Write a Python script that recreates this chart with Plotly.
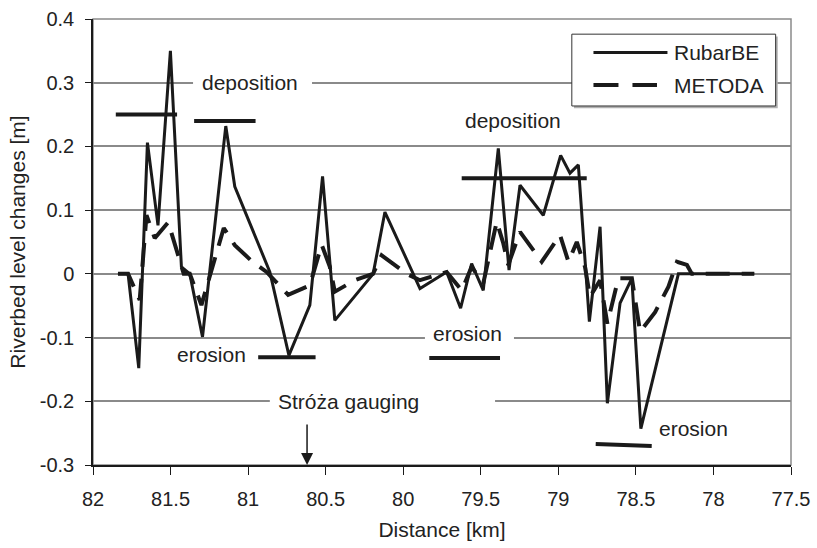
import plotly.graph_objects as go

# ---- data ----
distance_rubarbe = [81.839, 81.774, 81.705, 81.649, 81.581, 81.501, 81.430, 81.376, 81.294, 81.144,
                    81.086, 80.860, 80.737, 80.602, 80.520, 80.441, 80.194, 80.118, 79.892, 79.720,
                    79.630, 79.559, 79.484, 79.387, 79.318, 79.247, 79.097, 78.985, 78.925, 78.871,
                    78.800, 78.731, 78.684, 78.602, 78.526, 78.468, 78.226, 77.737]
change_rubarbe = [0, 0, -0.148, 0.206, 0.076, 0.350, 0.011, 0, -0.099, 0.232,
                  0.137, 0.003, -0.128, -0.049, 0.153, -0.073, 0, 0.097, -0.023, 0.003,
                  -0.054, 0.016, -0.026, 0.197, 0.006, 0.139, 0.092, 0.186, 0.158, 0.171,
                  -0.075, 0.074, -0.203, -0.046, -0.007, -0.243, 0, 0]

distance_metoda = [81.839, 81.774, 81.699, 81.655, 81.602, 81.515, 81.441, 81.415, 81.376, 81.301,
                   81.157, 81.086, 80.972, 80.881, 80.742, 80.602, 80.526, 80.473, 80.441, 80.312,
                   80.195, 80.139, 79.978, 79.892, 79.720, 79.623, 79.559, 79.484, 79.397, 79.355,
                   79.323, 79.247, 79.107, 78.989, 78.935, 78.881, 78.828, 78.796, 78.731, 78.684,
                   78.613, 78.526, 78.473, 78.376, 78.290, 78.235, 78.171, 78.139, 77.737]
change_metoda = [0, 0, -0.041, 0.092, 0.056, 0.081, 0.021, 0, 0, -0.049,
                 0.072, 0.045, 0.019, 0.003, -0.033, -0.018, 0.046, 0.011, -0.028, -0.010,
                 0, 0.029, 0, -0.010, 0.003, -0.026, 0.011, -0.015, 0.082, 0.048,
                 0.014, 0.066, 0.019, 0.061, 0.019, 0.050, 0.011, -0.036, -0.010, -0.078,
                 -0.007, -0.007, -0.091, -0.060, -0.020, 0.019, 0.014, 0, 0]

# level bars: (start km, end km, level start, level end)
bar_start = [81.853, 81.348, 79.623, 80.935, 79.832, 78.759]
bar_end = [81.458, 80.952, 78.817, 80.565, 79.376, 78.398]
bar_level_start = [0.25, 0.24, 0.15, -0.131, -0.132, -0.267]
bar_level_end = [0.25, 0.24, 0.15, -0.131, -0.132, -0.270]

label_text = ["deposition", "deposition", "erosion", "erosion", "erosion", "Stróża gauging"]
label_x = [80.988, 79.291, 81.239, 79.588, 78.131, 80.352]
label_y = [0.300, 0.241, -0.126, -0.094, -0.243, -0.200]

# gridline gaps behind labels (start km, end km, level)
gap_start = [81.355, 79.860, 80.860]
gap_end = [80.588, 79.286, 79.408]
gap_level = [0.3, -0.1, -0.2]

gauging_km = 80.62
gauging_arrow_top = -0.234

x_ticks = [82, 81.5, 81, 80.5, 80, 79.5, 79, 78.5, 78, 77.5]
x_ticktext = ["82", "81.5", "81", "80.5", "80", "79.5", "79", "78.5", "78", "77.5"]
y_ticks = [-0.3, -0.2, -0.1, 0, 0.1, 0.2, 0.3, 0.4]
y_ticktext = ["-0.3", "-0.2", "-0.1", "0", "0.1", "0.2", "0.3", "0.4"]

series_names = ["RubarBE", "METODA"]

INK = "#1a1a1a"
FONT = "Liberation Sans, Arial, sans-serif"

fig = go.Figure()

fig.add_trace(go.Scatter(x=distance_rubarbe, y=change_rubarbe, mode="lines",
                         name=series_names[0], showlegend=False,
                         line=dict(color=INK, width=3)))
fig.add_trace(go.Scatter(x=distance_metoda, y=change_metoda, mode="lines",
                         name=series_names[1], showlegend=False,
                         line=dict(color=INK, width=4, dash="24px,12px")))

for xs, xe, ys, ye in zip(bar_start, bar_end, bar_level_start, bar_level_end):
    fig.add_trace(go.Scatter(x=[xs, xe], y=[ys, ye], mode="lines", showlegend=False,
                             hoverinfo="skip", line=dict(color=INK, width=4)))

shapes = []
# plot border
shapes.append(dict(type="rect", xref="paper", yref="paper", x0=0, x1=1, y0=0, y1=1,
                   line=dict(color="#8a8a8a", width=1.5), layer="below"))
# white gaps in gridlines behind labels
for xs, xe, lv in zip(gap_start, gap_end, gap_level):
    shapes.append(dict(type="rect", xref="x", yref="y", x0=xs, x1=xe, y0=lv - 0.008, y1=lv + 0.008,
                       fillcolor="white", line=dict(width=0), layer="between"))

# legend box
lx0, lx1, ly0, ly1 = 0.686, 0.978, 0.805, 0.966
shapes.append(dict(type="rect", xref="paper", yref="paper", x0=lx0 + 0.003, x1=lx1 + 0.003,
                   y0=ly0 - 0.005, y1=ly1 - 0.005, fillcolor="#b0b0b0", line=dict(width=0), layer="above"))
shapes.append(dict(type="rect", xref="paper", yref="paper", x0=lx0, x1=lx1, y0=ly0, y1=ly1,
                   fillcolor="white", line=dict(color="#333333", width=1), layer="above"))
shapes.append(dict(type="line", xref="paper", yref="paper", x0=0.717, x1=0.823, y0=0.925, y1=0.925,
                   line=dict(color=INK, width=3), layer="above"))
shapes.append(dict(type="line", xref="paper", yref="paper", x0=0.717, x1=0.808, y0=0.852, y1=0.852,
                   line=dict(color=INK, width=4, dash="25px,14px"), layer="above"))

annotations = []
for t, x, y in zip(label_text, label_x, label_y):
    annotations.append(dict(text=t, x=x, y=y, xref="x", yref="y", showarrow=False,
                            font=dict(family=FONT, size=21, color="#222222"),
                            xanchor="center", yanchor="middle"))
annotations.append(dict(text=series_names[0], x=0.829, y=0.925, xref="paper", yref="paper",
                        showarrow=False, xanchor="left", yanchor="middle",
                        font=dict(family=FONT, size=21, color="#222222")))
annotations.append(dict(text=series_names[1], x=0.829, y=0.852, xref="paper", yref="paper",
                        showarrow=False, xanchor="left", yanchor="middle",
                        font=dict(family=FONT, size=21, color="#222222")))
annotations.append(dict(text="", x=gauging_km, y=-0.3, xref="x", yref="y",
                        ax=gauging_km, ay=gauging_arrow_top, axref="x", ayref="y",
                        showarrow=True, arrowhead=2, arrowsize=1.6, arrowwidth=1.5,
                        arrowcolor=INK, standoff=0))

fig.update_layout(
    width=817, height=548,
    margin=dict(l=93, r=26, t=19, b=83),
    paper_bgcolor="white", plot_bgcolor="white",
    font=dict(family=FONT, size=20, color="#222222"),
    shapes=shapes, annotations=annotations,
    showlegend=False,
)
fig.update_xaxes(range=[82, 77.5], tickmode="array", tickvals=x_ticks, ticktext=x_ticktext,
                 showgrid=False, zeroline=False, showline=True, linecolor=INK, linewidth=1.5,
                 ticks="outside", ticklen=8, tickwidth=1.2, tickcolor=INK,
                 tickfont=dict(size=20), ticklabelstandoff=7, automargin=False,
                 title=dict(text="Distance [km]", font=dict(size=21), standoff=14))
fig.update_yaxes(range=[-0.3, 0.4], tickmode="array", tickvals=y_ticks, ticktext=y_ticktext,
                 showgrid=True, gridcolor="#8a8a8a", gridwidth=1.5, zeroline=False,
                 showline=True, linecolor=INK, linewidth=1.5,
                 ticks="outside", ticklen=6, tickwidth=1.2, tickcolor=INK,
                 tickfont=dict(size=20), ticklabelstandoff=7, automargin=False,
                 title=dict(text="Riverbed level changes [m]", font=dict(size=21), standoff=8))

fig.write_html("out.html", post_script="document.body.style.margin='0';",
               config={"displayModeBar": False})
